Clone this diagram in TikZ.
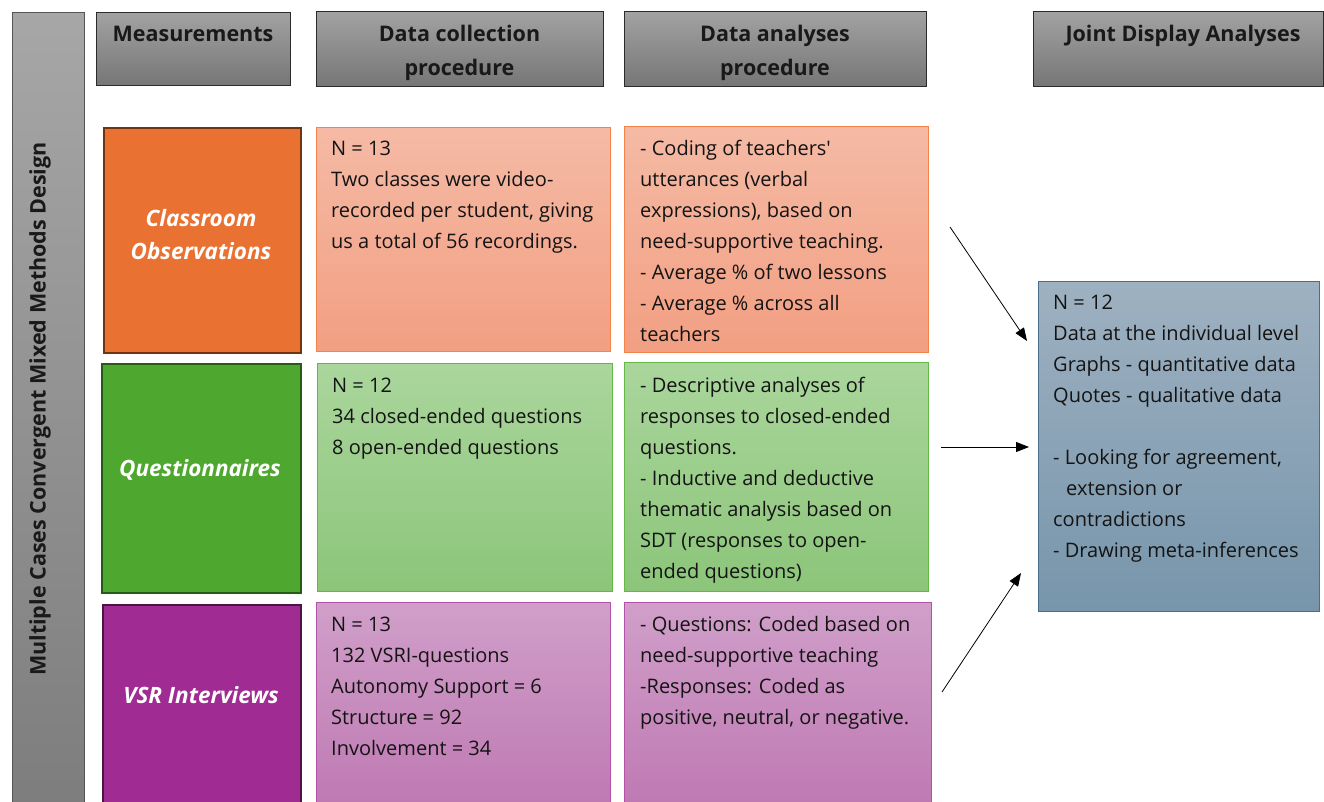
\documentclass[tikz,border=0pt]{standalone}
\usepackage{fontspec}
\setmainfont{Open Sans}[Ligatures=TeXOff]
\usetikzlibrary{arrows.meta}

% colour palette
\definecolor{hdrTop}{HTML}{A2A2A2}
\definecolor{hdrBot}{HTML}{767676}
\definecolor{hdrLine}{HTML}{2B2B2B}
\definecolor{orDark}{HTML}{E97132}
\definecolor{orDarkLine}{HTML}{6E3510}
\definecolor{orTop}{HTML}{F5BAA5}
\definecolor{orBot}{HTML}{F29F82}
\definecolor{orLine}{HTML}{F4844A}
\definecolor{grDark}{HTML}{4EA72E}
\definecolor{grDarkLine}{HTML}{275A17}
\definecolor{grTop}{HTML}{AAD69C}
\definecolor{grBot}{HTML}{8CC57A}
\definecolor{grLine}{HTML}{64B846}
\definecolor{puDark}{HTML}{A02B93}
\definecolor{puDarkLine}{HTML}{4B1443}
\definecolor{puTop}{HTML}{D09FC9}
\definecolor{puBot}{HTML}{BE78B2}
\definecolor{puLine}{HTML}{B452A8}
\definecolor{jdTop}{HTML}{9EB1C1}
\definecolor{jdBot}{HTML}{7795AB}
\definecolor{jdLine}{HTML}{4A6F8C}

\tikzset{
  cell/.style={rectangle, inner sep=0pt, anchor=north west},
  header/.style={cell, top color=hdrTop, bottom color=hdrBot, draw=hdrLine, line width=1pt},
  % multi-line nodes: the base anchor sits on the last line
  hdrtext/.style={anchor=base, align=center, inner sep=0pt,
    font=\fontsize{21.5}{34}\selectfont\bfseries, text=black!90},
  measure/.style={cell, line width=1.6pt},
  mtext/.style={align=center, inner sep=0pt, text=white,
    font=\fontsize{22.5}{33}\selectfont\bfseries\itshape},
  detail/.style={cell, line width=1pt},
  body/.style={anchor=base west, align=left, inner sep=0pt, text=black!92,
    font=\fontsize{20}{31}\selectfont},
  flow/.style={-{Triangle[length=13pt,width=10pt]}, line width=0.8pt, black}
}

\begin{document}
\begin{tikzpicture}[x=1pt, y=-1pt]
\clip (0,0) rectangle (1324,801);
\fill[white] (0,0) rectangle (1324,801);

% vertical design label on the left
\node[cell, top color=hdrTop!95, bottom color=hdrBot!95!white, draw=hdrLine!80,
      line width=1pt, minimum width=72, minimum height=800] (design) at (12,12) {};
\node[rotate=90, inner sep=0pt, font=\fontsize{21.5}{24}\selectfont\bfseries, text=black!90]
  (designtxt) at (40,409) {Multiple Cases Convergent Mixed Methods Design};

% column headers
\node[header, minimum width=194, minimum height=73] (h1) at (96,12) {};
\node[header, minimum width=287, minimum height=75] (h2) at (316,11) {};
\node[header, minimum width=302, minimum height=75] (h3) at (624,11) {};
\node[header, minimum width=290, minimum height=75] (h4) at (1033,11) {};
\node[hdrtext] (h1t) at (193,41.5) {Measurements};
\node[hdrtext] (h2t) at (459.5,75.5) {Data collection\\procedure};
\node[hdrtext] (h3t) at (775,75.5) {Data analyses\\procedure};
\node[hdrtext] (h4t) at (1183,41.5) {Joint Display Analyses};

% row 1: classroom observations
\node[measure, fill=orDark, draw=orDarkLine, minimum width=197, minimum height=225] (m1) at (103,127) {};
\node[mtext] (m1t) at (201,234.5) {Classroom\\Observations};
\node[detail, top color=orTop, bottom color=orBot, draw=orLine, minimum width=294, minimum height=224] (c1) at (316,127) {};
\node[body] (c1t) at (331,248) {N = 13\\Two classes were video-\\recorded per student, giving\\us a total of 56 recordings.};
\node[detail, top color=orTop, bottom color=orBot, draw=orLine, minimum width=304, minimum height=226] (a1) at (624,126) {};
\node[body] (a1t) at (640,341) {- Coding of teachers'\\utterances (verbal\\expressions), based on\\need-supportive teaching.\\- Average \% of two lessons\\- Average \% across all\\teachers};

% row 2: questionnaires
\node[measure, fill=grDark, draw=grDarkLine, minimum width=199, minimum height=229] (m2) at (101,363) {};
\node[mtext] (m2t) at (200,470) {Questionnaires};
\node[detail, top color=grTop, bottom color=grBot, draw=grLine, minimum width=295, minimum height=228] (c2) at (317,363) {};
\node[body] (c2t) at (332,454) {N = 12\\34 closed-ended questions\\8 open-ended questions};
\node[detail, top color=grTop, bottom color=grBot, draw=grLine, minimum width=304, minimum height=229] (a2) at (624,362) {};
\node[body] (a2t) at (640,578) {- Descriptive analyses of\\responses to closed-ended\\questions.\\- Inductive and deductive\\thematic analysis based on\\SDT (responses to open-\\ended questions)};

% row 3: VSR interviews
\node[measure, fill=puDark, draw=puDarkLine, minimum width=198, minimum height=210] (m3) at (102,604) {};
\node[mtext] (m3t) at (201,695) {VSR Interviews};
\node[detail, top color=puTop, bottom color=puBot, draw=puLine, minimum width=294, minimum height=210] (c3) at (316,602) {};
\node[body] (c3t) at (331,755) {N = 13\\132 VSRI-questions\\Autonomy Support = 6\\Structure = 92\\Involvement = 34};
\node[detail, top color=puTop, bottom color=puBot, draw=puLine, minimum width=307, minimum height=210] (a3) at (624,602) {};
\node[body] (a3t) at (640,724) {- Questions: Coded based on\\need-supportive teaching\\-Responses: Coded as\\positive, neutral, or negative.};

% joint display
\node[detail, top color=jdTop, bottom color=jdBot, draw=jdLine, minimum width=281, minimum height=330] (jd) at (1038,281) {};
\node[body] (jdt) at (1053,557) {N = 12\\Data at the individual level\\Graphs - quantitative data\\Quotes - qualitative data\\[31pt]- Looking for agreement,\\\hspace*{13pt}extension or\\contradictions\\- Drawing meta-inferences};

% connectors into the joint display
\coordinate (s1) at (950,227);
\coordinate (e1) at (1027,341);
\coordinate (s2) at (941,447);
\coordinate (e2) at (1029,447);
\coordinate (s3) at (942,692);
\coordinate (e3) at (1021,573);
\draw[flow] (s1) -- (e1);
\draw[flow] (s2) -- (e2);
\draw[flow] (s3) -- (e3);
\end{tikzpicture}
\end{document}
